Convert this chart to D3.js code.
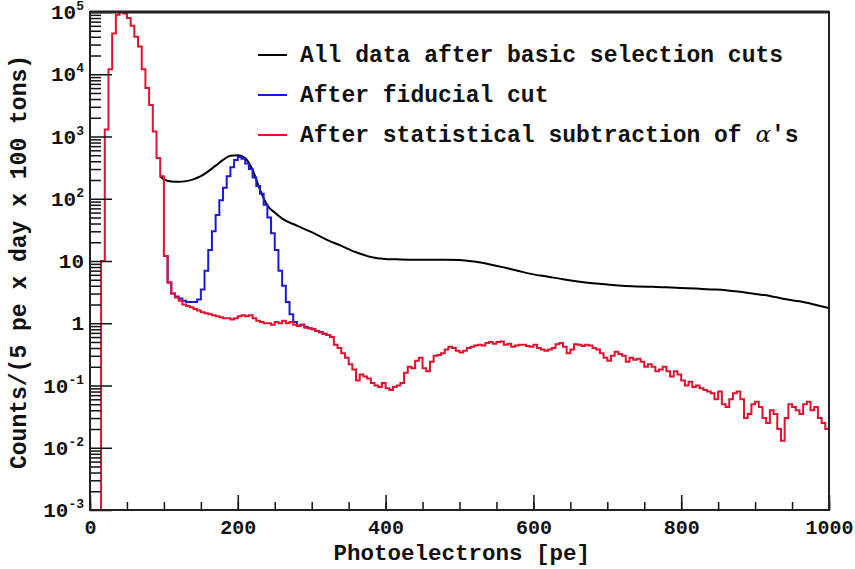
<!DOCTYPE html>
<html>
<head>
<meta charset="utf-8">
<script src="https://cdn.jsdelivr.net/npm/d3@7"></script>
<style>
  body { margin: 0; background: #fff; }
  svg { display: block; }
  text { font-family: "Liberation Mono", "DejaVu Sans Mono", monospace; font-weight: bold; fill: #111; }
</style>
</head>
<body>
<svg id="chart"></svg>
<script>
// 5 pe bins starting at 0
const binWidth = 5;
const redCounts = [
  0,0,0,10,1300,12000,45000,90000,100000,95000,80000,60000,40000,28000,12000,6000,3200,1200,450,230,
  12,4.5,3.0,2.6,2.3,2.0,1.9,1.8,1.7,1.6,1.5,1.45,1.4,1.35,1.3,1.25,1.2,1.2,1.15,1.2,
  1.3,1.35,1.3,1.35,1.2,1.1,1.05,1.0,1.0,0.95,1.05,1.0,1.1,1.0,1.05,0.95,0.9,0.95,0.85,0.83,
  0.8,0.75,0.72,0.68,0.65,0.6,0.45,0.4,0.33,0.28,0.22,0.18,0.12,0.15,0.14,0.13,0.11,0.1,0.095,0.11,
  0.09,0.085,0.095,0.1,0.11,0.16,0.2,0.19,0.25,0.28,0.19,0.17,0.24,0.3,0.31,0.33,0.38,0.42,0.4,0.36,
  0.34,0.36,0.4,0.42,0.44,0.45,0.44,0.48,0.5,0.47,0.5,0.51,0.45,0.47,0.42,0.44,0.45,0.45,0.43,0.42,
  0.45,0.4,0.38,0.36,0.38,0.4,0.46,0.48,0.42,0.33,0.38,0.46,0.45,0.43,0.45,0.44,0.4,0.38,0.33,0.28,
  0.25,0.3,0.35,0.32,0.3,0.24,0.28,0.26,0.27,0.24,0.2,0.22,0.2,0.17,0.18,0.2,0.17,0.14,0.17,0.15,
  0.12,0.1,0.115,0.095,0.1,0.09,0.085,0.08,0.075,0.06,0.08,0.05,0.045,0.06,0.075,0.08,0.06,0.03,0.035,0.05,
  0.055,0.045,0.03,0.025,0.04,0.035,0.02,0.013,0.03,0.05,0.045,0.04,0.035,0.05,0.055,0.04,0.045,0.03,0.025,0.02
];
const blueStart = 100;
const blueCounts = [
  12,4.5,3.0,2.7,2.5,2.3,2.2,2.2,2.2,2.4,3.5,7,15,30,55,95,150,230,320,420,
  470,440,370,300,220,160,120,80,50,28,15,7,4,2.2,1.4,1.05,0.92,0.95,0.87,0.83,
  0.8,0.75,0.72,0.68,0.65,0.6
];
const blackPe = [95,100,110,120,130,140,150,160,170,180,190,200,210,220,230,240,250,260,280,300,
  320,340,360,380,400,420,440,460,480,500,520,540,560,580,600,620,640,660,680,700,720,740,760,780,800,
  820,840,860,880,900,920,940,960,980,1000];
const blackCounts = [230,205,190,188,192,205,230,275,340,420,490,500,450,290,140,78,60,48,37,29,
  22,17.5,13.8,11.6,10.8,10.6,10.5,10.5,10.5,10.4,9.8,8.9,7.9,6.9,6.1,5.6,5.1,4.7,4.4,4.2,4.0,3.9,3.85,3.8,3.7,
  3.6,3.5,3.4,3.2,2.95,2.75,2.45,2.25,2.0,1.75];

const xMajor = [0, 200, 400, 600, 800, 1000];
const yExponents = [-3, -2, -1, 0, 1, 2, 3, 4, 5];
const legendLabels = ["All data after basic selection cuts", "After fiducial cut", "After statistical subtraction of "];
const legendColors = ["#000000", "#1a1ad6", "#e3102e"];

const width = 855, height = 569;
const margin = { top: 12, right: 26, bottom: 59, left: 90 };

const svg = d3.select("#chart").attr("width", width).attr("height", height);

const x = d3.scaleLinear().domain([0, 1000]).range([margin.left, width - margin.right]);
const y = d3.scaleLog().domain([1e-3, 1e5]).range([height - margin.bottom, margin.top]).clamp(true);

svg.append("clipPath").attr("id", "plot")
  .append("rect")
  .attr("x", margin.left).attr("y", margin.top)
  .attr("width", x(1000) - x(0)).attr("height", y(1e-3) - y(1e5));

function histPoints(start, counts) {
  const pts = counts.map((c, i) => [start + i * binWidth, c > 0 ? c : 1e-4]);
  const last = counts[counts.length - 1];
  pts.push([start + counts.length * binWidth, last > 0 ? last : 1e-4]);
  return pts;
}

const stepLine = d3.line()
  .x(d => x(d[0]))
  .y(d => y(d[1]))
  .curve(d3.curveStepAfter);

const smoothLine = d3.line()
  .x(d => x(d[0]))
  .y(d => y(d[1]))
  .curve(d3.curveMonotoneX);

const plot = svg.append("g").attr("clip-path", "url(#plot)");

plot.append("path")
  .datum(blackPe.map((p, i) => [p, blackCounts[i]]))
  .attr("d", smoothLine)
  .attr("fill", "none").attr("stroke", legendColors[0]).attr("stroke-width", 2);

plot.append("path")
  .datum(histPoints(blueStart, blueCounts))
  .attr("d", stepLine)
  .attr("fill", "none").attr("stroke", legendColors[1]).attr("stroke-width", 2);

plot.append("path")
  .datum(histPoints(0, redCounts))
  .attr("d", stepLine)
  .attr("fill", "none").attr("stroke", legendColors[2]).attr("stroke-width", 2);

// axes, ROOT style ticks pointing inward
const yMinor = [];
yExponents.slice(0, -1).forEach(e => {
  for (let k = 2; k <= 9; k++) yMinor.push(k * Math.pow(10, e));
});

svg.append("g")
  .attr("transform", `translate(${margin.left},0)`)
  .call(d3.axisLeft(y).tickValues(yMinor).tickSize(-11).tickSizeOuter(0).tickFormat(() => ""))
  .call(g => g.select(".domain").remove());

svg.append("g")
  .attr("transform", `translate(${margin.left},0)`)
  .call(d3.axisLeft(y).tickValues(yExponents.map(e => Math.pow(10, e))).tickSize(-22).tickSizeOuter(0).tickFormat(() => ""))
  .call(g => g.select(".domain").remove());

svg.append("g")
  .attr("transform", `translate(0,${height - margin.bottom})`)
  .call(d3.axisBottom(x).tickValues(d3.range(0, 1001, 50)).tickSize(-8).tickSizeOuter(0).tickFormat(() => ""))
  .call(g => g.select(".domain").remove());

svg.append("g")
  .attr("transform", `translate(0,${height - margin.bottom})`)
  .call(d3.axisBottom(x).tickValues(xMajor).tickSize(-15).tickSizeOuter(0).tickPadding(10).tickFormat(d3.format("d")))
  .call(g => g.select(".domain").remove())
  .call(g => g.selectAll("text").attr("font-size", 20).attr("fill", "#111"));

svg.selectAll(".tick line").attr("stroke", "#111").attr("stroke-width", 1.5);

// y tick labels with superscripts
const yLab = svg.append("g").attr("font-size", 21).attr("text-anchor", "end");
yExponents.forEach(e => {
  const t = yLab.append("text")
    .attr("x", margin.left - 6)
    .attr("y", y(Math.pow(10, e)) + 7);
  if (e === 0) { t.text("1"); return; }
  if (e === 1) { t.text("10"); return; }
  t.append("tspan").text("10");
  t.append("tspan").attr("font-size", 13).attr("dy", -9).text(e);
});

// frame
svg.append("rect")
  .attr("x", margin.left).attr("y", margin.top)
  .attr("width", x(1000) - x(0)).attr("height", y(1e-3) - y(1e5))
  .attr("fill", "none").attr("stroke", "#222").attr("stroke-width", 2);
svg.append("line")
  .attr("x1", margin.left).attr("x2", x(1000))
  .attr("y1", margin.top).attr("y2", margin.top)
  .attr("stroke", "#222").attr("stroke-width", 3);

// axis titles
svg.append("text")
  .attr("x", 590).attr("y", 560)
  .attr("text-anchor", "end").attr("font-size", 22.5)
  .text("Photoelectrons [pe]");

svg.append("text")
  .attr("transform", `translate(26,262) rotate(-90)`)
  .attr("text-anchor", "middle").attr("font-size", 23)
  .text("Counts/(5 pe x day x 100 tons)");

// legend
const legend = svg.append("g");
legendLabels.forEach((label, i) => {
  const ly = 55 + i * 40;
  legend.append("line")
    .attr("x1", 258).attr("x2", 287).attr("y1", ly).attr("y2", ly)
    .attr("stroke", legendColors[i]).attr("stroke-width", 2);
  const t = legend.append("text")
    .attr("x", 300).attr("y", ly + 7)
    .attr("font-size", 23)
    .text(label);
  if (i === 2) {
    t.append("tspan").attr("font-family", "DejaVu Serif, serif").attr("font-style", "italic").attr("font-weight", "normal").text("α");
    t.append("tspan").text("'s");
  }
});
</script>
</body>
</html>
